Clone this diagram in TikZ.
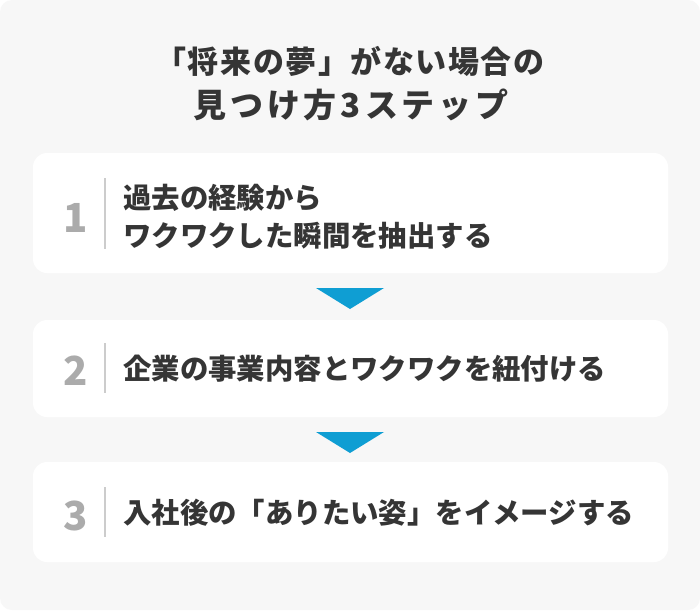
\documentclass[tikz,border=0pt]{standalone}
\usepackage{fontspec}
\newfontfamily\jp{Noto Sans CJK JP}
\newfontfamily\jpa{Noto Sans CJK JP}[LetterSpace=5]
\newfontfamily\jpb{Noto Sans CJK JP}[LetterSpace=12]
\definecolor{bgc}{HTML}{F7F7F7}
\definecolor{txt}{HTML}{353535}
\definecolor{numc}{HTML}{ABABAB}
\definecolor{sepc}{HTML}{CCCCCC}
\definecolor{tric}{HTML}{0F9ED3}
\tikzset{
  stepbox/.style={fill=white, rounded corners=14pt, inner sep=0pt, minimum width=635pt},
  bodytext/.style={inner sep=0pt, text=txt, font=\jp\bfseries\fontsize{28.4}{34}\selectfont},
  numtext/.style={inner sep=0pt, text=numc, font=\jp\bfseries\fontsize{40}{44}\selectfont},
  titleA/.style={inner sep=0pt, text=txt, font=\jpa\bfseries\fontsize{31}{36}\selectfont},
  titleB/.style={inner sep=0pt, text=txt, font=\jpb\bfseries\fontsize{33}{38}\selectfont},
  sepline/.style={draw=sepc, line width=2pt},
  tri/.style={fill=tric}
}
\begin{document}
\begin{tikzpicture}[x=1pt,y=-1pt]
\useasboundingbox (0,0) rectangle (700,610);
\fill[white] (0,0) rectangle (700,610);
\fill[bgc, rounded corners=12pt] (0,0) rectangle (700,610);
% title
\node[titleA, anchor=base] (title1) at (350,74) {「将来の夢」がない場合の};
\node[titleB, anchor=base] (title2) at (351,117) {見つけ方3ステップ};
% boxes
\node[stepbox, minimum height=120pt] (b1) at (350.5,213) {};
\node[stepbox, minimum height=97pt] (b2) at (350.5,368.5) {};
\node[stepbox, minimum height=100pt] (b3) at (350.5,512) {};
% triangles
\fill[tri] (316,288) -- (384,288) -- (350,309) -- cycle;
\fill[tri] (316,432) -- (384,432) -- (350,453) -- cycle;
% step 1
\node[numtext, anchor=base] (n1) at (76,232) {1};
\draw[sepline] (105,178) -- (105,249);
\node[bodytext, anchor=base west] (t1a) at (123,208) {過去の経験から};
\node[bodytext, anchor=base west] (t1b) at (123,246.5) {ワクワクした瞬間を抽出する};
% step 2
\node[numtext, anchor=base] (n2) at (76,385) {2};
\draw[sepline] (105,343) -- (105,393);
\node[bodytext, anchor=base west] (t2) at (123,379) {企業の事業内容とワクワクを紐付ける};
% step 3
\node[numtext, anchor=base] (n3) at (76,530) {3};
\draw[sepline] (105,487) -- (105,537);
\node[bodytext, anchor=base west] (t3) at (123,523) {入社後の「ありたい姿」をイメージする};
\end{tikzpicture}
\end{document}
